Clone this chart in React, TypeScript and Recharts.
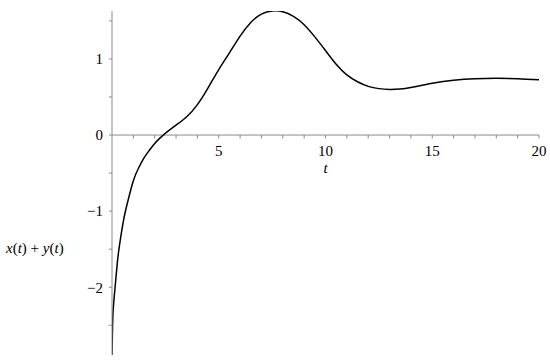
import React from 'react';
import { LineChart, Line, XAxis, YAxis, ReferenceLine, ReferenceDot } from 'recharts';

const tValues = [0, 0.03, 0.08, 0.16, 0.26, 0.35, 0.54, 0.75, 1, 1.25, 1.5, 1.75, 2, 2.4, 3, 3.5, 4, 4.5, 5, 5.5, 6, 6.5, 7, 7.5, 8, 8.5, 9, 9.5, 10, 10.5, 11, 11.5, 12, 12.5, 13, 13.5, 14, 15, 16, 17, 18, 19, 20];
const sumValues = [-2.89, -2.45, -2.2, -1.95, -1.65, -1.45, -1.12, -0.86, -0.6, -0.43, -0.3, -0.2, -0.11, 0, 0.13, 0.24, 0.4, 0.62, 0.86, 1.08, 1.3, 1.48, 1.59, 1.63, 1.62, 1.56, 1.45, 1.29, 1.11, 0.93, 0.79, 0.7, 0.64, 0.61, 0.6, 0.605, 0.625, 0.68, 0.72, 0.74, 0.745, 0.74, 0.725];

const xMinorTicks = [1, 2, 3, 4, 5, 6, 7, 8, 9, 10, 11, 12, 13, 14, 15, 16, 17, 18, 19, 20];
const xTickLabels = [5, 10, 15, 20];
const yTicks = [-2.5, -2, -1.5, -1, -0.5, 0, 0.5, 1, 1.5];

const data = tValues.map((t, i) => ({ t, v: sumValues[i] }));

const serif =
  '"Liberation Serif", "Times New Roman", Tinos, "Noto Serif", FreeSerif, "DejaVu Serif", "Nimbus Roman", Times, serif';
const axisGray = '#8a8a8a';

const fmtY = (v: number) => (Number.isInteger(v) ? (v < 0 ? '\u2212' + Math.abs(v) : String(v)) : '');

const YLabel = (props: any) => {
  const { viewBox } = props;
  const x = viewBox.x + 6;
  const y = viewBox.y + viewBox.height * 0.69;
  return (
    <text x={x} y={y} dominantBaseline="central" fontFamily={serif} fontSize={15} fill="#000">
      <tspan fontStyle="italic">x</tspan>
      <tspan>(</tspan>
      <tspan fontStyle="italic">t</tspan>
      <tspan>) + </tspan>
      <tspan fontStyle="italic">y</tspan>
      <tspan>(</tspan>
      <tspan fontStyle="italic">t</tspan>
      <tspan>)</tspan>
    </text>
  );
};

export default function App() {
  return (
    <div style={{ position: 'absolute', left: 0, top: 0, background: '#fff', fontFamily: serif }}>
      <LineChart width={550} height={362} data={data} margin={{ top: 11, right: 11, bottom: 7, left: 0 }}>
        <XAxis type="number" dataKey="t" domain={[0, 20]} hide allowDataOverflow />
        <YAxis
          type="number"
          domain={[-2.89, 1.63]}
          allowDataOverflow
          ticks={yTicks}
          interval={0}
          width={112}
          tickFormatter={fmtY}
          tickSize={3}
          tickMargin={6}
          axisLine={{ stroke: axisGray }}
          tickLine={{ stroke: axisGray }}
          tick={{ fill: '#000', fontSize: 15, fontFamily: serif }}
          label={<YLabel />}
        />
        <ReferenceLine y={0} stroke={axisGray} strokeWidth={1} />
        {xMinorTicks.map((t) => (
          <ReferenceLine
            key={'tk' + t}
            segment={[{ x: t, y: 0 }, { x: t, y: -0.045 }]}
            stroke={axisGray}
          />
        ))}
        {xTickLabels.map((t) => (
          <ReferenceDot
            key={'lb' + t}
            x={t}
            y={0}
            r={0}
            fill="none"
            stroke="none"
            label={{ value: String(t), position: 'bottom', offset: 10, fill: '#000', fontSize: 15, fontFamily: serif }}
          />
        ))}
        <ReferenceDot
          x={10}
          y={0}
          r={0}
          fill="none"
          stroke="none"
          label={{ value: 't', position: 'bottom', offset: 27, fill: '#000', fontSize: 15, fontStyle: 'italic', fontFamily: serif }}
        />
        <Line type="natural" dataKey="v" stroke="#000" strokeWidth={1.5} dot={false} isAnimationActive={false} />
      </LineChart>
    </div>
  );
}
